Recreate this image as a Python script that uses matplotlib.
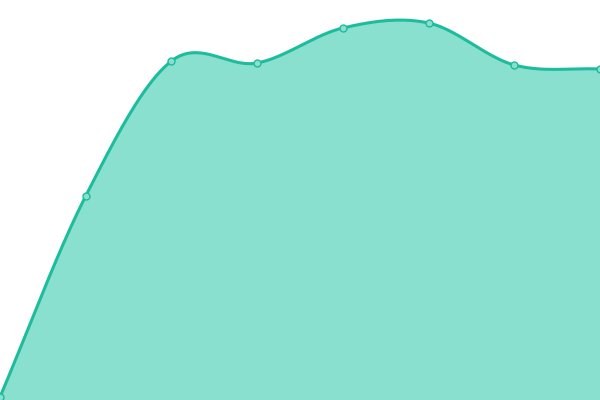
import numpy as np
import matplotlib
matplotlib.use('Agg')
import matplotlib.pyplot as plt

# values
x_vals = [0, 1, 2, 3, 4, 5, 6, 7]
y_vals = [3, 204, 339, 337, 372, 377, 335, 331]

line_color = '#1dbc9c'
fill_color = '#89e0cf'


def catmull_rom(xs, ys, n=40):
    # smooth curve through the points, like the chart's spline
    xs = np.asarray(xs, float)
    ys = np.asarray(ys, float)
    px = np.concatenate([[2 * xs[0] - xs[1]], xs, [2 * xs[-1] - xs[-2]]])
    py = np.concatenate([[2 * ys[0] - ys[1]], ys, [2 * ys[-1] - ys[-2]]])
    out_x, out_y = [], []
    t = np.linspace(0, 1, n, endpoint=False)
    for i in range(1, len(px) - 2):
        for p, out in ((px, out_x), (py, out_y)):
            p0, p1, p2, p3 = p[i - 1], p[i], p[i + 1], p[i + 2]
            out.extend(0.5 * (2 * p1 + (-p0 + p2) * t
                              + (2 * p0 - 5 * p1 + 4 * p2 - p3) * t ** 2
                              + (-p0 + 3 * p1 - 3 * p2 + p3) * t ** 3))
    out_x.append(xs[-1])
    out_y.append(ys[-1])
    return np.array(out_x), np.array(out_y)


fig = plt.figure(figsize=(6, 4), dpi=100)
ax = fig.add_axes([0, 0, 1, 1])

sx, sy = catmull_rom(x_vals, y_vals)
ax.fill_between(sx, 0, sy, color=fill_color, linewidth=0)
ax.plot(sx, sy, color=line_color, linewidth=2.2, solid_capstyle='round')
ax.plot(x_vals, y_vals, 'o', markersize=5, markerfacecolor=fill_color,
        markeredgecolor=line_color, markeredgewidth=1, clip_on=False)

ax.set_xlim(0, 7)
ax.set_ylim(0, 400)
ax.axis('off')

fig.savefig('out.png', dpi=100)
